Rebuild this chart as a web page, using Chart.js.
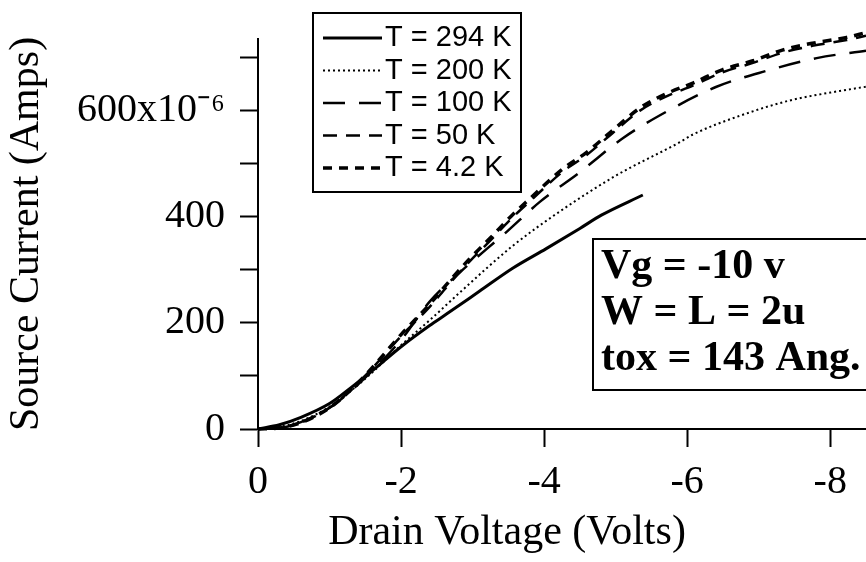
<!DOCTYPE html>
<html>
<head>
<meta charset="utf-8">
<script src="https://cdn.jsdelivr.net/npm/chart.js@4"></script>
<style>
  html, body { margin: 0; padding: 0; background: #fff; }
  canvas { display: block; }
</style>
</head>
<body>
<canvas id="idChart" width="866" height="562"></canvas>
<script>
// drain voltage (V) and source current (uA)
const v294 = [0, -0.3, -0.6, -1.0, -1.3, -1.6, -2.0, -2.4, -2.64, -3.1, -3.56, -4.03, -4.5, -4.8, -5.38];
const i294 = [0, 8, 22, 48, 78, 110, 155, 195, 217, 260, 303, 340, 378, 403, 441];

const v200 = [0, -0.3, -0.6, -1.0, -1.3, -1.6, -2.0, -2.4, -2.86, -3.56, -4.22, -5.01, -5.89, -6.08, -6.73, -7.43, -8.13, -8.5];
const i200 = [0, 4, 15, 42, 72, 107, 158, 205, 262, 345, 410, 478, 540, 555, 590, 619, 637, 645];

const v100 = [0, -0.3, -0.6, -1.0, -1.3, -1.6, -2.0, -2.4, -2.82, -3.48, -3.94, -4.5, -5.1, -5.71, -6.41, -7.11, -7.81, -8.5];
const i100 = [0, 3, 13, 40, 72, 110, 168, 240, 295, 372, 428, 484, 548, 598, 645, 675, 699, 713];

const vLow = [0, -0.3, -0.6, -1.0, -1.3, -1.6, -2.0, -2.4, -2.64, -2.96, -3.24, -3.56, -3.8, -4.26, -4.59, -4.96, -5.34, -5.71, -6.08, -6.49, -6.92, -7.33, -7.75, -8.23, -8.5];
const i50 = [0, 2, 12, 40, 74, 115, 175, 230, 268, 316, 354, 399, 429, 485, 516, 558, 600, 627, 647, 672, 690, 709, 722, 733, 741];
const i4 = [0, 2, 12, 40, 74, 116, 178, 235, 273, 321, 359, 404, 434, 490, 521, 563, 605, 632, 652, 677, 694, 714, 727, 738, 747];

const seriesNames = ['T = 294 K', 'T = 200 K', 'T = 100 K', 'T = 50 K', 'T = 4.2 K'];
const yTicks = [0, 200, 400, 600];
const xTicks = [0, -2, -4, -6, -8];
const infoLines = ['Vg = -10 v', 'W = L = 2u', 'tox = 143 Ang.'];

const serif = "'Liberation Serif', 'Times New Roman', serif";
const sans = "'Liberation Sans', Arial, Helvetica, sans-serif";

function pts(vs, is) {
  return vs.map((v, k) => ({ x: v, y: is[k] }));
}

function line(label, vs, is, width, dash) {
  return {
    label: label,
    data: pts(vs, is),
    borderColor: '#000',
    borderWidth: width,
    borderDash: dash,
    pointRadius: 0,
    fill: false,
    clip: false,
    tension: 0.4,
    cubicInterpolationMode: 'monotone'
  };
}

// legend box and the parameter box
const boxes = {
  id: 'boxes',
  afterDraw(chart) {
    const c = chart.ctx;
    c.save();
    c.strokeStyle = '#000';
    c.fillStyle = '#000';

    c.lineWidth = 2;
    c.setLineDash([]);
    c.strokeRect(313, 13, 208, 179);
    c.font = '29px ' + sans;
    c.textBaseline = 'middle';
    chart.data.datasets.forEach((ds, k) => {
      const y = 38 + k * 32.5;
      c.lineWidth = ds.borderWidth;
      c.setLineDash(ds.borderDash || []);
      c.beginPath();
      c.moveTo(323, y);
      c.lineTo(382, y);
      c.stroke();
      c.setLineDash([]);
      c.fillText(ds.label, 385, y);
    });

    c.lineWidth = 2;
    c.strokeRect(593, 239, 290, 151);
    c.font = 'bold 42px ' + serif;
    c.textBaseline = 'alphabetic';
    infoLines.forEach((t, k) => c.fillText(t, 601, 278 + k * 46));

    // x axis title
    c.font = '42px ' + serif;
    c.textAlign = 'center';
    c.textBaseline = 'middle';
    c.fillText('Drain Voltage (Volts)', 507, 533);
    c.restore();
  }
};

new Chart(document.getElementById('idChart'), {
  type: 'line',
  data: {
    datasets: [
      line(seriesNames[0], v294, i294, 3, []),
      line(seriesNames[1], v200, i200, 2, [2, 3]),
      line(seriesNames[2], v100, i100, 2.5, [22, 14]),
      line(seriesNames[3], vLow, i50, 2.5, [14, 9]),
      line(seriesNames[4], vLow, i4, 3.5, [9, 7])
    ]
  },
  options: {
    responsive: false,
    animation: false,
    layout: { padding: { top: 36, right: 0, left: 0, bottom: 0 } },
    plugins: { legend: { display: false }, tooltip: { enabled: false } },
    scales: {
      x: {
        type: 'linear',
        reverse: true,
        min: -8.5,
        max: 0,
        afterFit(s) { s.height = 133; },
        border: { color: '#000', width: 2 },
        grid: { drawOnChartArea: false, drawTicks: true, tickLength: 18, tickColor: '#000', tickWidth: 2 },
        ticks: {
          stepSize: 2,
          includeBounds: false,
          autoSkip: false,
          maxRotation: 0,
          padding: 11,
          color: '#000',
          font: { family: serif, size: 40 },
          callback: v => xTicks.includes(v) ? String(v) : ''
        },
        title: { display: false }
      },
      y: {
        min: 0,
        max: 735,
        afterFit(s) { s.width = 258; },
        border: { color: '#000', width: 2 },
        grid: { drawOnChartArea: false, drawTicks: true, tickLength: 18, tickColor: '#000', tickWidth: 2 },
        ticks: {
          stepSize: 100,
          includeBounds: false,
          autoSkip: false,
          padding: 15,
          color: '#000',
          font: { family: serif, size: 40 },
          callback: v => v === 600 ? '600x10\u207B\u2076' : (yTicks.includes(v) ? String(v) : '')
        },
        title: {
          display: true,
          text: 'Source Current (Amps)',
          color: '#000',
          font: { family: serif, size: 42 },
          padding: { top: 2, bottom: 0 }
        }
      }
    }
  },
  plugins: [boxes]
});
</script>
</body>
</html>
